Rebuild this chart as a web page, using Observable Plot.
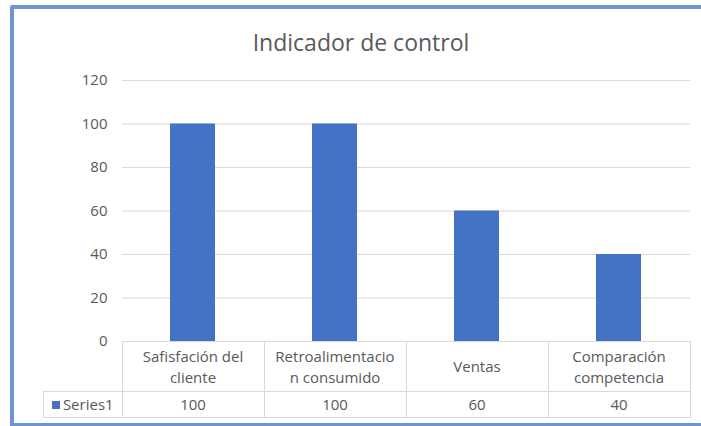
<!DOCTYPE html>
<html>
<head>
<meta charset="utf-8">
<script src="https://cdn.jsdelivr.net/npm/d3@7"></script>
<script src="https://cdn.jsdelivr.net/npm/@observablehq/plot@0.6"></script>
<style>
  html, body { margin: 0; padding: 0; background: #fff; }
  #wrap { position: relative; width: 701px; height: 426px; overflow: hidden; font-family: "Open Sans", Lato, sans-serif; color: #595959; }
  #frame { position: absolute; left: 10px; top: 5px; width: 720px; height: 414px; border: 4px solid #6f92d3; border-right: none; border-top-left-radius: 3px; }
  #title { position: absolute; left: 0; top: 26px; width: 722px; text-align: center; font-size: 23px; color: #595959; }
  #chart { position: absolute; left: 0; top: 0; }
  #table { position: absolute; left: 43px; top: 341px; border-collapse: collapse; font-size: 15px; color: #595959; }
  #table td { border: 1px solid #d9d9d9; text-align: center; padding: 0; white-space: pre-line; line-height: 21px; }
  #table td.blank { border: none; }
  .sw { display: inline-block; width: 8px; height: 8px; background: #4472c4; margin-right: 3px; vertical-align: 1px; }
</style>
</head>
<body>
<div id="wrap">
  <div id="frame"></div>
  <div id="title"></div>
  <div id="chart"></div>
  <table id="table"></table>
</div>
<script>
const title = "Indicador de control";
const categories = ["Safisfación del\ncliente", "Retroalimentacio\nn consumido", "Ventas", "Comparación\ncompetencia"];
const seriesName = "Series1";
const values = [100, 100, 60, 40];
const yTicks = [0, 20, 40, 60, 80, 100, 120];

document.getElementById("title").textContent = title;

const data = categories.map((c, i) => ({category: c, value: values[i]}));

const chart = Plot.plot({
  width: 701,
  height: 352,
  marginLeft: 122,
  marginRight: 11,
  marginTop: 80,
  marginBottom: 11,
  style: {fontFamily: "'Open Sans', Lato, sans-serif", fontSize: "15px", color: "#595959", background: "transparent"},
  x: {domain: categories, paddingInner: 0.68, paddingOuter: 0.34, axis: null},
  y: {domain: [0, 120], ticks: yTicks, tickSize: 0, tickPadding: 15, label: null, grid: false},
  marks: [
    Plot.gridY(yTicks, {stroke: "#d9d9d9", strokeOpacity: 1, strokeWidth: 1}),
    Plot.barY(data, {x: "category", y: "value", fill: "#4472c4"}),
    Plot.axisY(yTicks, {tickSize: 0, tickPadding: 15, label: null, fill: "#595959", fontSize: 15})
  ]
});
document.getElementById("chart").appendChild(chart);

// data table
const table = document.getElementById("table");
const r1 = table.insertRow();
const blank = r1.insertCell(); blank.className = "blank"; blank.style.width = "78px";
categories.forEach(c => {
  const td = r1.insertCell();
  td.textContent = c;
  td.style.width = "141px";
  td.style.height = "49px";
});
const r2 = table.insertRow();
const lc = r2.insertCell();
lc.innerHTML = '<span class="sw"></span>' + seriesName;
lc.style.height = "25px";
values.forEach(v => {
  const td = r2.insertCell();
  td.textContent = v;
});
</script>
</body>
</html>
